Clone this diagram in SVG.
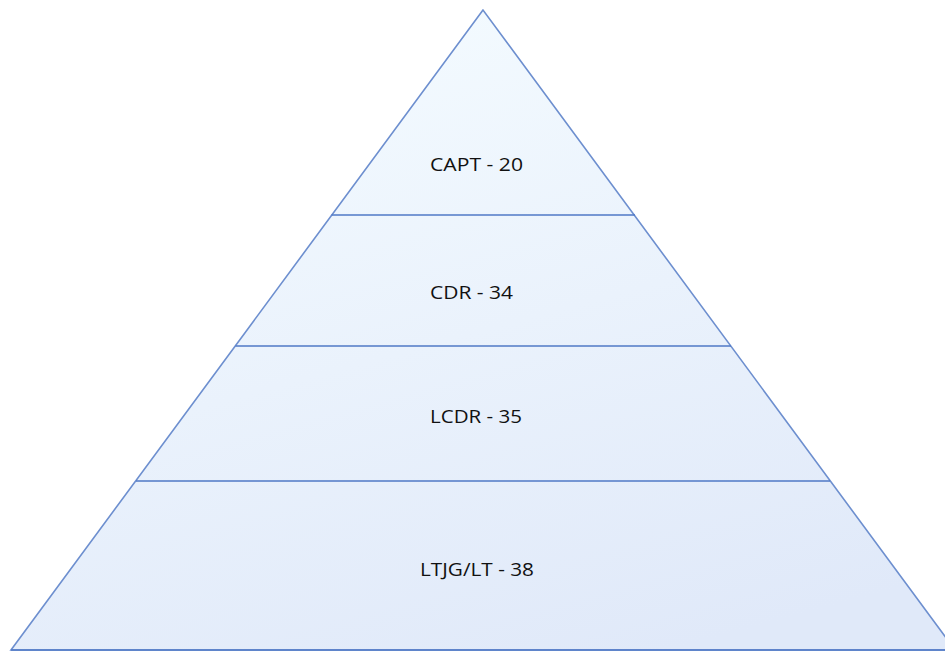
<svg xmlns="http://www.w3.org/2000/svg" width="945" height="652" viewBox="0 0 945 652">
<defs>
<linearGradient id="fill" x1="0.3" y1="0" x2="0.7" y2="1" gradientUnits="objectBoundingBox">
<stop offset="0" stop-color="#f4fbff"/>
<stop offset="1" stop-color="#e0e9f9"/>
</linearGradient>
</defs>
<style>
.edge{fill:url(#fill);stroke:#6d8fcf;stroke-width:1.6}
.div{stroke:#4f78c6;stroke-width:1.6}
.lbl{font-family:"Open Sans","Liberation Sans",Arial,sans-serif;font-size:19px;fill:#111}
</style>
<rect width="945" height="652" fill="#ffffff"/>
<g id="pyramid">
<polygon points="483,10 11,650 955,650" class="edge"/>
</g>
<g id="connectors">
<line class="div" x1="331.5" y1="215" x2="635" y2="215"/>
<line class="div" x1="235.5" y1="346" x2="731" y2="346"/>
<line class="div" x1="136" y1="481" x2="830" y2="481"/>
<line class="div" x1="11" y1="650" x2="955" y2="650"/>
</g>
<g id="capt"><text class="lbl" x="430" y="171" textLength="93" lengthAdjust="spacingAndGlyphs">CAPT - 20</text></g>
<g id="cdr"><text class="lbl" x="430" y="299" textLength="83" lengthAdjust="spacingAndGlyphs">CDR - 34</text></g>
<g id="lcdr"><text class="lbl" x="430" y="423" textLength="92" lengthAdjust="spacingAndGlyphs">LCDR - 35</text></g>
<g id="ltjg"><text class="lbl" x="420" y="576" textLength="114" lengthAdjust="spacingAndGlyphs">LTJG/LT - 38</text></g>
</svg>
